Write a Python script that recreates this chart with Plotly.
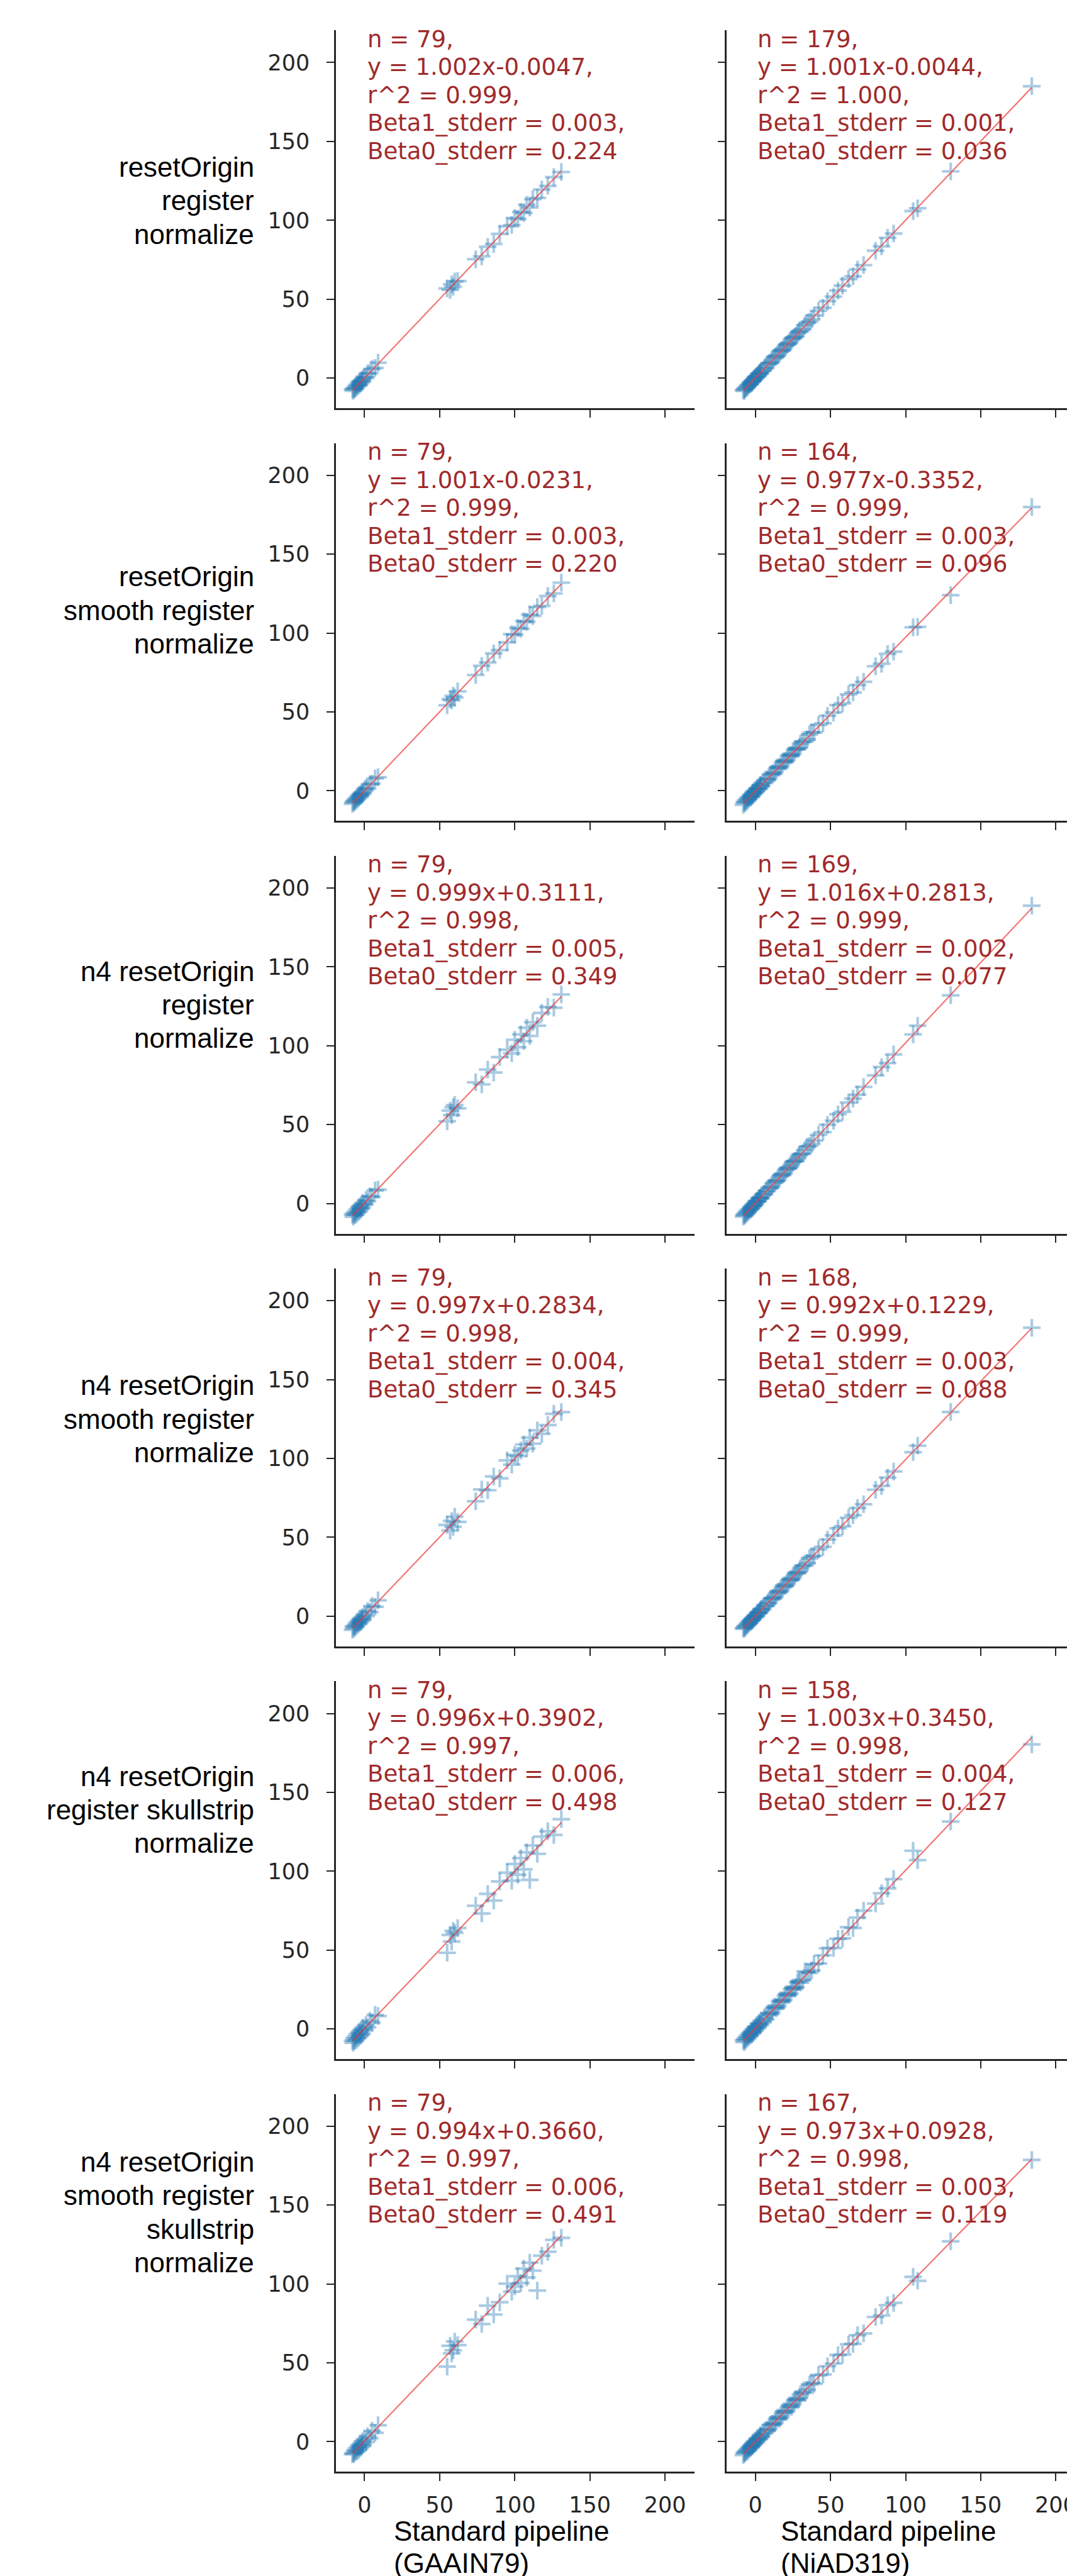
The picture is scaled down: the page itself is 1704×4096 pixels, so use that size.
import plotly.graph_objects as go

# ---------------- data ----------------
row_labels = [
    ["resetOrigin", "register", "normalize"],
    ["resetOrigin", "smooth register", "normalize"],
    ["n4 resetOrigin", "register", "normalize"],
    ["n4 resetOrigin", "smooth register", "normalize"],
    ["n4 resetOrigin", "register skullstrip", "normalize"],
    ["n4 resetOrigin", "smooth register", "skullstrip", "normalize"],
]
row_label_y = [112.5, 114.5, 126, 125, 139, 145.5]
col_titles = [["Standard pipeline", "(GAAIN79)"], ["Standard pipeline", "(NiAD319)"]]
tick_vals = [0, 50, 100, 150, 200]

# left column (GAAIN79) statistics
n_left = [79, 79, 79, 79, 79, 79]
slope_left = [1.002, 1.001, 0.999, 0.997, 0.996, 0.994]
icpt_left = [-0.0047, -0.0231, 0.3111, 0.2834, 0.3902, 0.3660]
r2_left = [0.999, 0.999, 0.998, 0.998, 0.997, 0.997]
b1se_left = [0.003, 0.003, 0.005, 0.004, 0.006, 0.006]
b0se_left = [0.224, 0.220, 0.349, 0.345, 0.498, 0.491]

# right column (NiAD319) statistics
n_right = [179, 164, 169, 168, 158, 167]
slope_right = [1.001, 0.977, 1.016, 0.992, 1.003, 0.973]
icpt_right = [-0.0044, -0.3352, 0.2813, 0.1229, 0.3450, 0.0928]
r2_right = [1.000, 0.999, 0.999, 0.999, 0.998, 0.998]
b1se_right = [0.001, 0.003, 0.002, 0.003, 0.004, 0.003]
b0se_right = [0.036, 0.096, 0.077, 0.088, 0.127, 0.119]

# left column x (standard pipeline, GAAIN79)
LX = [-8, -7.5, -7, -6.5, -6, -5.5, -5, -4.5, -4, -3.5, -3, -2.5, -2, -1.5, -1, 0, 1, 2, 3.5, 5, 7, 9,
      55, 57, 58, 59, 60, 62,
      74, 78, 82, 86, 90,
      95, 98, 100, 102, 104, 106, 108, 110, 112, 115, 118,
      122, 126, 131]
LY1 = [-7.2, -8.1, -6.5, -7.0, -5.4, -6.2, -4.3, -5.1, -3.2, -4.4, -2.1, -3.3, -1.4, -2.2, -0.3, 0.8, 0.2, 2.9, 3.1, 5.8, 6.4, 9.7,
       56.8, 55.9, 59.4, 57.8, 61.2, 61.5,
       75.3, 77.1, 83.2, 85.0, 91.4,
       96.2, 97.0, 101.5, 100.8, 105.3, 104.6, 109.8, 108.1, 113.4, 114.2, 119.5,
       121.8, 127.4, 130.6]
LY2 = [-8.3, -6.9, -7.4, -5.8, -6.6, -4.9, -5.6, -3.8, -4.7, -2.7, -3.6, -1.8, -2.6, -0.9, -1.7, 0.6, 1.8, 1.3, 4.2, 4.5, 7.8, 8.6,
       54.2, 58.1, 57.3, 60.2, 59.1, 63.0,
       73.4, 79.2, 81.3, 87.1, 89.2,
       94.1, 99.3, 99.0, 103.2, 102.7, 107.5, 107.1, 111.6, 110.8, 116.5, 117.2,
       123.5, 125.1, 131.9]
LY3 = [-7.0, -8.4, -6.1, -7.3, -5.2, -6.8, -3.9, -5.6, -2.8, -4.9, -1.7, -3.5, -0.8, -2.6, 0.4, -0.7, 2.1, 1.4, 4.6, 4.2, 8.3, 8.8,
       52.1, 58.9, 56.0, 61.0, 62.4, 60.3,
       76.8, 75.5, 84.9, 83.0, 92.8,
       97.5, 95.2, 103.8, 99.1, 107.2, 102.9, 111.4, 106.2, 114.9, 112.7, 120.8,
       124.6, 124.1, 132.5]
LY4 = [-8.6, -6.6, -7.8, -5.9, -6.9, -4.6, -5.8, -3.5, -4.8, -2.4, -3.9, -1.6, -2.9, -0.5, -1.9, 1.1, 0.0, 3.3, 2.6, 6.5, 6.0, 10.1,
       57.9, 54.3, 60.4, 56.7, 63.1, 59.8,
       72.9, 80.3, 79.9, 88.6, 87.4,
       98.8, 96.1, 102.4, 101.6, 105.0, 108.9, 106.3, 113.2, 109.4, 117.8, 115.6,
       121.2, 128.3, 129.4]
LY5 = [-7.5, -8.8, -6.0, -7.6, -5.0, -6.9, -3.6, -5.9, -2.5, -5.0, -1.4, -3.9, -0.4, -2.9, 0.8, -0.9, 2.5, 1.0, 5.1, 3.9, 8.9, 8.2,
       48.3, 59.6, 55.4, 62.2, 60.9, 64.0,
       78.1, 73.2, 85.6, 81.4, 93.5,
       99.1, 94.0, 104.6, 97.8, 108.3, 101.2, 112.0, 94.5, 116.3, 111.0, 121.9,
       125.3, 123.0, 133.0]
LY6 = [-8.0, -7.1, -7.7, -5.6, -6.4, -4.4, -6.1, -3.3, -5.2, -2.2, -4.1, -1.3, -3.1, 0.2, -2.0, 1.5, -0.3, 3.6, 2.2, 6.9, 5.6, 10.4,
       47.6, 60.8, 55.9, 57.9, 63.5, 61.2,
       77.4, 74.6, 86.2, 80.6, 88.4,
       100.2, 95.1, 98.4, 104.9, 100.6, 109.7, 104.1, 113.5, 108.4, 95.8, 117.9,
       120.4, 127.9, 129.2]

# right column x (standard pipeline, NiAD319)
RX = [-8, -7.5, -7, -6.5, -6, -5.5, -5, -4.5, -4, -3.5, -3, -2.5, -2, -1.5, -1, -0.5, 0, 1, 2, 3, 4, 5, 6, 7, 8,
      10, 12, 14, 16, 18, 20, 22, 24, 26, 28, 30, 33, 36, 39,
      42, 45, 48, 52, 55, 58, 62, 65, 68, 72,
      80, 84, 88, 92, 105, 108,
      130, 184,
      9, 11, 13, 15, 17, 19, 21, 23, 25, 27, 29, 31.5, 34.5, 37.5, 0.5, 1.5, 2.5, 3.5]
RY1 = [-7.6, -8.2, -6.8, -6.9, -5.7, -5.9, -4.6, -4.8, -3.7, -3.9, -2.6, -2.8, -1.7, -1.8, -0.6, -0.9, 0.4, 0.7, 2.3, 2.8, 4.4, 4.7, 6.3, 6.6, 8.5,
       9.6, 12.4, 13.7, 16.5, 17.6, 20.4, 21.7, 24.6, 25.8, 28.4, 29.6, 33.5, 35.7, 39.6,
       42.6, 44.5, 48.7, 51.6, 55.4, 58.6, 62.7, 64.5, 68.8, 71.6,
       80.7, 83.5, 88.9, 91.6, 105.8, 107.6,
       131.0, 185.0,
       9.4, 10.6, 13.5, 14.6, 17.4, 18.7, 21.3, 22.6, 25.5, 26.7, 29.4, 31.0, 35.1, 37.1, 0.8, 1.2, 2.9, 3.2]
RY2 = [-8.9, -7.2, -7.8, -6.1, -6.9, -5.0, -5.9, -4.1, -4.8, -3.1, -3.9, -2.2, -2.9, -1.1, -1.9, -0.1, -0.9, 1.3, 1.0, 3.3, 3.0, 5.2, 4.9, 7.2, 6.9,
       10.2, 10.7, 14.1, 14.6, 18.0, 18.5, 22.0, 22.4, 25.9, 26.3, 29.8, 31.1, 35.7, 37.0,
       41.6, 42.8, 47.5, 49.6, 54.3, 55.4, 61.1, 62.3, 67.0, 69.1,
       78.9, 80.5, 86.8, 88.2, 103.6, 103.9,
       124.0, 179.9,
       8.0, 11.0, 11.8, 15.0, 15.7, 18.9, 19.6, 22.8, 23.5, 26.7, 27.3, 31.2, 32.6, 37.1, -0.4, 1.7, 1.5, 3.8]
RY3 = [-8.3, -7.0, -7.6, -5.9, -6.6, -4.8, -5.6, -3.9, -4.5, -2.9, -3.6, -1.9, -2.5, -0.9, -1.5, 0.1, -0.5, 1.6, 1.8, 3.6, 4.0, 5.6, 6.1, 7.6, 8.1,
       10.0, 12.9, 14.2, 16.9, 18.0, 21.1, 22.3, 24.6, 26.8, 28.6, 31.3, 34.0, 36.5, 39.9,
       43.5, 45.2, 49.9, 52.4, 56.6, 58.1, 64.0, 66.5, 69.0, 73.9,
       81.2, 86.5, 89.0, 94.5, 107.2, 112.7,
       132.0, 188.8,
       9.9, 11.0, 14.1, 15.0, 18.2, 19.0, 22.2, 23.1, 26.3, 27.1, 30.3, 31.6, 36.0, 37.7, 1.3, 1.2, 3.4, 3.2]
RY4 = [-7.5, -8.0, -6.5, -6.9, -5.6, -5.8, -4.4, -4.9, -3.5, -3.8, -2.4, -2.8, -1.5, -1.7, -0.4, -0.8, 0.6, 0.6, 2.5, 2.7, 4.6, 4.6, 6.4, 6.6, 8.3,
       10.6, 11.4, 14.5, 15.4, 18.4, 19.2, 22.4, 23.1, 26.2, 27.3, 30.4, 32.1, 36.6, 38.4,
       42.4, 44.0, 48.6, 51.2, 55.7, 57.0, 62.4, 64.0, 68.6, 71.0,
       80.2, 82.6, 87.9, 91.8, 104.0, 108.1,
       129.5, 182.9,
       8.5, 11.6, 12.4, 15.6, 16.4, 19.6, 20.4, 23.5, 24.3, 27.5, 28.3, 32.0, 33.7, 37.9, 0.1, 2.1, 2.1, 4.1]
RY5 = [-7.2, -8.4, -6.3, -7.3, -5.1, -6.1, -4.0, -5.2, -3.0, -4.2, -2.0, -3.1, -0.9, -2.2, 0.1, -1.2, 1.1, 0.3, 3.1, 2.3, 5.2, 4.2, 7.3, 6.2, 9.1,
       9.4, 13.1, 13.2, 17.3, 17.4, 21.2, 21.4, 25.3, 25.4, 29.5, 29.4, 36.5, 35.6, 41.1,
       41.5, 46.6, 51.2, 51.3, 57.1, 57.4, 64.5, 64.0, 70.6, 75.0,
       79.5, 86.0, 89.1, 95.0, 113.0, 107.0,
       131.5, 180.4,
       10.2, 10.6, 14.2, 14.6, 18.3, 18.5, 22.3, 22.5, 26.3, 26.5, 30.3, 31.1, 35.9, 37.1, 1.6, 1.1, 3.6, 3.1]
RY6 = [-8.5, -7.0, -7.5, -6.0, -6.6, -5.0, -5.7, -4.0, -4.6, -3.0, -3.6, -2.1, -2.6, -1.0, -1.6, 0.2, -0.6, 1.4, 1.2, 3.5, 3.2, 5.6, 5.1, 7.4, 7.0,
       10.6, 10.9, 14.4, 14.5, 18.2, 18.7, 22.0, 22.1, 26.1, 26.4, 30.0, 31.0, 36.2, 36.7,
       42.1, 42.6, 47.8, 49.5, 54.9, 55.2, 61.7, 62.0, 67.5, 68.6,
       79.0, 80.0, 86.5, 88.0, 104.5, 102.0,
       127.0, 178.6,
       8.2, 11.4, 12.0, 15.4, 15.9, 19.3, 19.8, 23.2, 23.7, 27.1, 27.6, 31.5, 33.0, 37.4, -0.1, 2.2, 1.8, 4.2]

LY = [LY1, LY2, LY3, LY4, LY5, LY6]
RY = [RY1, RY2, RY3, RY4, RY5, RY6]

# ---------------- layout geometry (output pixels) ----------------
W, H = 1704, 4096
S = 0.839
X_RANGE_L = [-19, 219.5]
Y_RANGE = [-19.1, 220.4]
col_px = [(630 * S, 1312 * S), (1374 * S, W)]
px_per_unit = (col_px[0][1] - col_px[0][0]) / (X_RANGE_L[1] - X_RANGE_L[0])
X_RANGE_R = [-19, -19 + (col_px[1][1] - col_px[1][0]) / px_per_unit]
ROW_PITCH = 782.2


def row_px(r):
    return (48 + ROW_PITCH * r) * S, (764 + ROW_PITCH * r) * S


AX_COLOR = "#262626"
MARK_COLOR = "rgba(31,119,180,0.38)"
LINE_COLOR = "rgba(235,45,45,0.65)"
TXT_COLOR = "#a02a2a"
STAT_FONT = 37
STAT_STEP = 44.5
LABEL_FONT = 44
LABEL_STEP = 53.4

fig = go.Figure()
layout = dict(
    width=W, height=H,
    margin=dict(l=0, r=0, t=0, b=0),
    paper_bgcolor="white", plot_bgcolor="white",
    showlegend=False,
)
annotations = []

for r in range(6):
    top, bot = row_px(r)
    for c in range(2):
        k = r * 2 + c + 1
        xs = "" if k == 1 else str(k)
        xdata = LX if c == 0 else RX
        ydata = LY[r] if c == 0 else RY[r]
        slope = slope_left[r] if c == 0 else slope_right[r]
        icpt = icpt_left[r] if c == 0 else icpt_right[r]
        fig.add_trace(go.Scatter(
            x=xdata, y=ydata, mode="markers",
            marker=dict(symbol="cross-thin", size=20, color=MARK_COLOR,
                        line=dict(width=4.2, color=MARK_COLOR)),
            xaxis="x" + xs, yaxis="y" + xs, hoverinfo="skip"))
        x0, x1 = min(xdata), max(xdata)
        fig.add_trace(go.Scatter(
            x=[x0, x1], y=[slope * x0 + icpt, slope * x1 + icpt], mode="lines",
            line=dict(color=LINE_COLOR, width=2.2),
            xaxis="x" + xs, yaxis="y" + xs, hoverinfo="skip"))

        axcommon = dict(showline=True, linecolor=AX_COLOR, linewidth=2.5,
                        ticks="outside", ticklen=12, tickwidth=2, tickcolor=AX_COLOR,
                        showgrid=False, zeroline=False, tickvals=tick_vals,
                        tickfont=dict(family="DejaVu Sans", size=35, color=AX_COLOR))
        layout["xaxis" + xs] = dict(
            axcommon,
            domain=[col_px[c][0] / W, min(col_px[c][1] / W, 1.0)],
            range=X_RANGE_L if c == 0 else X_RANGE_R,
            anchor="y" + xs,
            showticklabels=(r == 5),
            ticklabelstandoff=8,
            ticklabeloverflow="allow",
        )
        layout["yaxis" + xs] = dict(
            axcommon,
            domain=[1 - bot / H, 1 - top / H],
            range=Y_RANGE,
            anchor="x" + xs,
            showticklabels=(c == 0),
            ticklabelstandoff=20,
        )

        if c == 0:
            lines = [f"n = {n_left[r]},",
                     f"y = {slope_left[r]:.3f}x{icpt_left[r]:+.4f},",
                     f"r^2 = {r2_left[r]:.3f},",
                     f"Beta1_stderr = {b1se_left[r]:.3f},",
                     f"Beta0_stderr = {b0se_left[r]:.3f}"]
        else:
            lines = [f"n = {n_right[r]},",
                     f"y = {slope_right[r]:.3f}x{icpt_right[r]:+.4f},",
                     f"r^2 = {r2_right[r]:.3f},",
                     f"Beta1_stderr = {b1se_right[r]:.3f},",
                     f"Beta0_stderr = {b0se_right[r]:.3f}"]
        for i, ln in enumerate(lines):
            annotations.append(dict(
                text=ln, xref="x" + xs + " domain", yref="y" + xs + " domain",
                x=0.085, y=1.0, xanchor="left", yanchor="middle", align="left",
                showarrow=False, yshift=-(14 + STAT_STEP * i),
                font=dict(family="DejaVu Sans", size=STAT_FONT, color=TXT_COLOR)))

    # row label (one annotation per line, centred on the row_label_y value)
    ks = "" if r == 0 else str(r * 2 + 1)
    nl = len(row_labels[r])
    for i, ln in enumerate(row_labels[r]):
        annotations.append(dict(
            text=ln, xref="paper", yref="y" + ks,
            x=400 / W, y=row_label_y[r], xanchor="right", yanchor="middle", align="right",
            yshift=-(i - (nl - 1) / 2) * LABEL_STEP,
            showarrow=False, font=dict(family="Liberation Sans", size=LABEL_FONT, color="black")))

# column (x) titles
title_x = [738 * S, 1474 * S]
title_line_y = [4016, 4067]
for c in range(2):
    for i, ln in enumerate(col_titles[c]):
        annotations.append(dict(
            text=ln, xref="paper", yref="paper",
            x=title_x[c] / W, y=1 - title_line_y[i] / H, xanchor="left", yanchor="middle",
            align="left", showarrow=False,
            font=dict(family="Liberation Sans", size=LABEL_FONT, color="black")))

layout["annotations"] = annotations
fig.update_layout(**layout)
fig.write_html("out.html")
